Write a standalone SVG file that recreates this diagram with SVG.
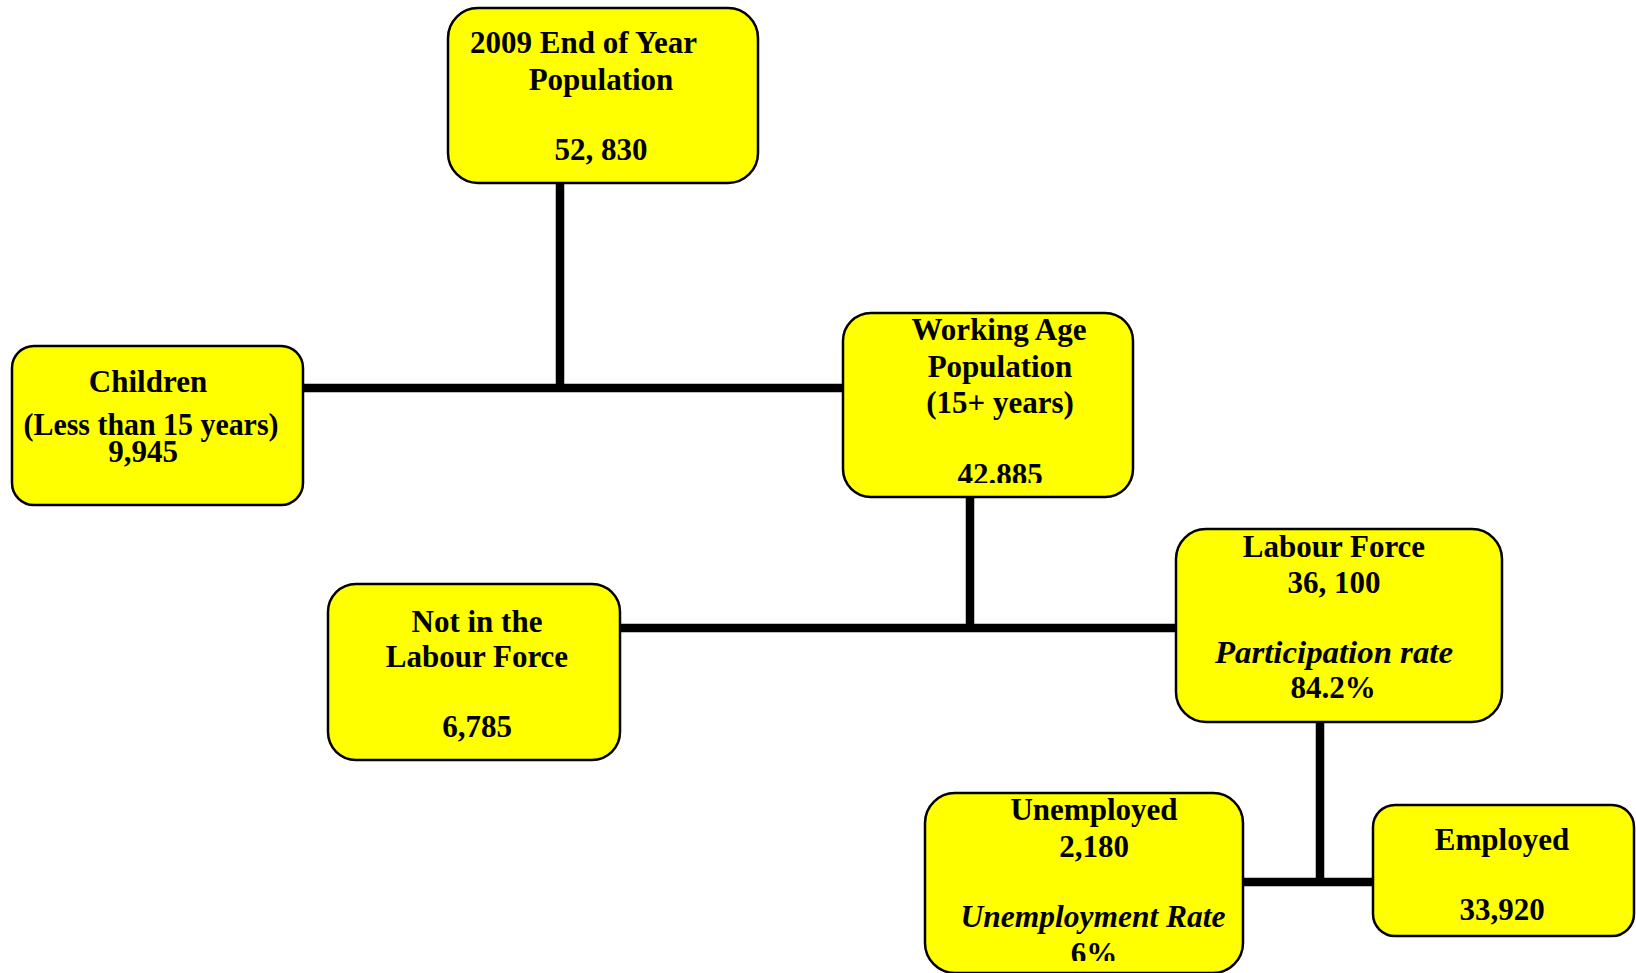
<svg xmlns="http://www.w3.org/2000/svg" width="1636" height="973" viewBox="0 0 1636 973">
<style>
.box{fill:#FFFF00;stroke:#000;stroke-width:2.5}
.t{font-family:"Liberation Serif","Times New Roman",serif;font-weight:bold;font-size:31px;fill:#000;text-anchor:middle}
.i{font-style:italic}
.c{stroke:#000;stroke-width:8.5;fill:none}
</style>
<defs>
<clipPath id="clipWA"><rect x="843" y="313" width="290" height="170"/></clipPath>
<clipPath id="clipUE"><rect x="925" y="793" width="318" height="168"/></clipPath>
</defs>
<rect width="1636" height="973" fill="#fff"/>
<g id="connectors">
<line class="c" x1="560" y1="183" x2="560" y2="388"/>
<line class="c" x1="303" y1="388" x2="843" y2="388"/>
<line class="c" x1="970" y1="497" x2="970" y2="628"/>
<line class="c" x1="620" y1="628" x2="1176" y2="628"/>
<line class="c" x1="1320" y1="722" x2="1320" y2="882"/>
<line class="c" x1="1243" y1="882" x2="1373" y2="882"/>
</g>
<g id="population">
<rect class="box" x="448" y="8" width="310" height="175" rx="30"/>
<text class="t" x="470" y="53" style="text-anchor:start">2009 End of Year</text>
<text class="t" x="601" y="90">Population</text>
<text class="t" x="601" y="160">52, 830</text>
</g>
<g id="children">
<rect class="box" x="12" y="346" width="291" height="159" rx="22"/>
<text class="t" x="148" y="392">Children</text>
<text class="t" x="151" y="435" textLength="255" lengthAdjust="spacingAndGlyphs">(Less than 15 years)</text>
<text class="t" x="143" y="462">9,945</text>
</g>
<g id="working-age">
<rect class="box" x="843" y="313" width="290" height="184" rx="28"/>
<text class="t" x="999" y="340">Working Age</text>
<text class="t" x="1000" y="377">Population</text>
<text class="t" x="1000" y="413">(15+ years)</text>
<text class="t" x="1000" y="485" clip-path="url(#clipWA)">42.885</text>
</g>
<g id="not-in-labour-force">
<rect class="box" x="328" y="584" width="292" height="176" rx="28"/>
<text class="t" x="477" y="632">Not in the</text>
<text class="t" x="477" y="667">Labour Force</text>
<text class="t" x="477" y="737">6,785</text>
</g>
<g id="labour-force">
<rect class="box" x="1176" y="529" width="326" height="193" rx="30"/>
<text class="t" x="1334" y="557">Labour Force</text>
<text class="t" x="1334" y="593">36, 100</text>
<text class="t i" x="1334" y="663" textLength="238" lengthAdjust="spacingAndGlyphs">Participation rate</text>
<text class="t" x="1333" y="698">84.2%</text>
</g>
<g id="unemployed">
<rect class="box" x="925" y="793" width="318" height="180" rx="30"/>
<text class="t" x="1094" y="820">Unemployed</text>
<text class="t" x="1094" y="857">2,180</text>
<text class="t i" x="1093" y="927" textLength="265" lengthAdjust="spacingAndGlyphs">Unemployment Rate</text>
<text class="t" x="1094" y="964" clip-path="url(#clipUE)">6%</text>
</g>
<g id="employed">
<rect class="box" x="1373" y="805" width="261" height="131" rx="22"/>
<text class="t" x="1502" y="850">Employed</text>
<text class="t" x="1502" y="920">33,920</text>
</g>
</svg>
